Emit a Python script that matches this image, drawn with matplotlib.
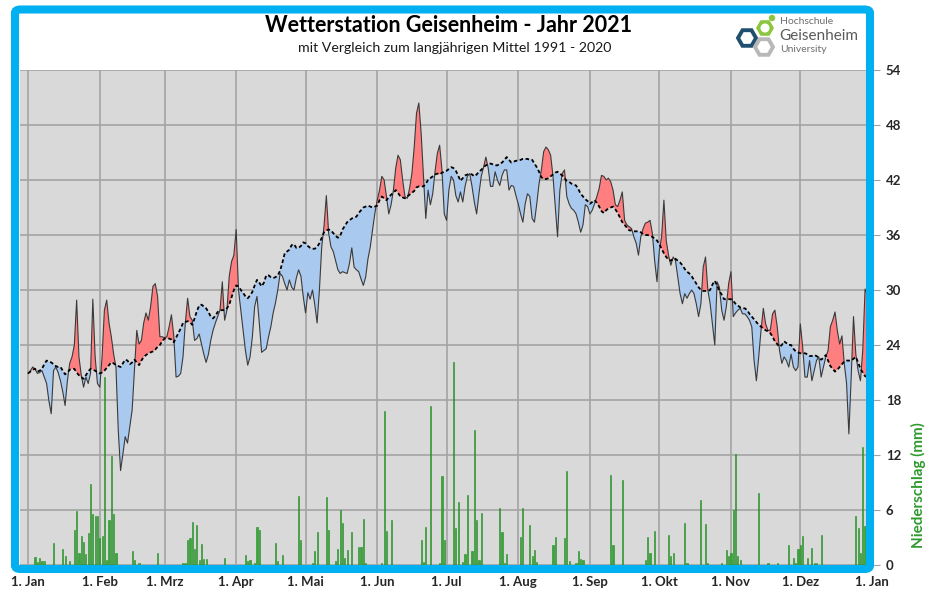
import numpy as np
import matplotlib
matplotlib.use("Agg")
import matplotlib.pyplot as plt
from matplotlib.patches import FancyBboxPatch, RegularPolygon, Circle

W, H = 931, 592

# Tageswerte 2021 (Tag des Jahres 0..364)
WERT_2021 = [
    20.9, 21.2, 21.6, 21.4, 20.9, 21.0, 21.2, 20.5, 19.8, 17.9,
    16.5, 21.2, 21.6, 21.0, 20.1, 18.9, 17.4, 20.1, 22.0, 22.7,
    24.0, 28.9, 22.7, 20.7, 19.4, 20.5, 19.8, 20.9, 29.0, 22.7,
    19.8, 19.4, 22.7, 27.8, 28.9, 26.4, 24.9, 23.0, 21.6, 14.7,
    10.3, 12.1, 14.0, 13.3, 15.1, 16.9, 21.2, 25.6, 24.1, 24.5,
    26.4, 27.5, 26.7, 28.2, 30.4, 30.7, 29.3, 24.9, 24.9, 24.8,
    24.9, 26.0, 27.3, 25.0, 20.5, 20.6, 20.9, 22.7, 26.4, 29.1,
    27.1, 26.7, 24.5, 24.7, 25.2, 24.1, 23.0, 22.1, 23.0, 24.5,
    25.6, 26.4, 27.1, 27.8, 30.9, 26.7, 27.8, 31.5, 33.1, 33.8,
    36.6, 30.0, 27.8, 25.6, 23.4, 21.8, 22.7, 24.9, 28.2, 29.3,
    26.4, 23.2, 23.4, 23.6, 24.9, 26.0, 27.5, 28.6, 30.0, 31.8,
    31.5, 30.7, 30.0, 31.1, 30.3, 30.0, 31.3, 32.2, 31.5, 29.3,
    27.5, 29.7, 29.0, 30.0, 28.4, 26.4, 30.0, 34.7, 37.0, 40.3,
    36.2, 34.7, 34.2, 33.2, 32.2, 31.8, 32.0, 31.9, 31.8, 32.9,
    34.6, 32.5, 32.2, 32.0, 31.2, 30.5, 31.4, 33.4, 34.7, 36.6,
    38.4, 39.8, 40.9, 42.4, 42.0, 40.2, 38.3, 39.3, 40.9, 43.3,
    44.7, 44.2, 42.0, 40.2, 40.0, 41.1, 42.7, 45.6, 49.3, 50.4,
    47.1, 42.4, 37.8, 40.9, 39.3, 40.5, 42.9, 44.9, 45.8, 43.1,
    38.3, 37.6, 40.9, 42.4, 42.0, 40.3, 39.6, 40.7, 39.6, 41.3,
    42.4, 42.7, 41.3, 39.6, 38.3, 40.5, 42.4, 43.4, 44.5, 43.3,
    41.3, 41.3, 42.9, 42.0, 41.4, 42.5, 43.1, 43.1, 40.9, 41.4,
    41.3, 40.3, 39.4, 38.3, 37.4, 39.4, 40.5, 40.2, 37.8, 37.4,
    39.4, 41.6, 43.1, 45.1, 45.6, 45.3, 44.7, 42.5, 39.1, 35.8,
    40.9, 42.7, 43.1, 40.2, 39.4, 38.9, 38.7, 38.3, 37.4, 36.3,
    37.1, 39.3, 39.1, 38.3, 38.7, 39.4, 40.2, 41.1, 42.5, 42.4,
    42.0, 42.2, 41.8, 40.9, 39.3, 39.1, 39.8, 40.7, 37.6, 37.1,
    36.9, 36.7, 35.8, 35.1, 33.8, 35.8, 36.7, 37.3, 37.4, 37.6,
    36.2, 33.2, 30.9, 34.3, 35.8, 39.8, 35.4, 33.8, 32.7, 33.6,
    33.2, 31.4, 29.6, 28.5, 29.6, 29.1, 29.6, 30.0, 29.6, 28.5,
    27.1, 28.5, 32.5, 33.6, 30.0, 28.5, 26.3, 24.0, 30.9, 30.3,
    27.8, 26.7, 28.2, 30.7, 32.0, 27.1, 27.5, 27.8, 28.0, 27.4,
    27.4, 27.1, 26.7, 26.0, 22.3, 20.1, 22.7, 25.6, 28.0, 26.3,
    25.6, 25.6, 27.4, 27.8, 26.0, 23.4, 22.0, 22.7, 22.3, 21.6,
    23.0, 21.6, 21.2, 21.6, 26.3, 23.8, 20.5, 20.5, 22.3, 20.1,
    21.2, 22.3, 22.7, 20.5, 21.6, 22.7, 23.4, 26.0, 26.7, 27.6,
    25.6, 24.1, 25.0, 22.0, 19.8, 14.3, 20.5, 27.1, 23.0, 21.2,
    20.1, 23.4, 30.1, 29.5, 29.0,
]

# langjähriges Mittel 1991-2020
MITTEL = [
    20.9, 21.1, 21.3, 21.4, 21.1, 21.2, 21.4, 21.9, 22.3, 22.2,
    22.1, 21.9, 21.7, 21.6, 21.6, 21.2, 20.8, 21.0, 21.3, 21.4,
    21.4, 21.0, 20.7, 20.5, 20.3, 20.7, 21.1, 21.4, 21.3, 21.2,
    21.0, 20.9, 21.0, 21.2, 21.5, 21.8, 22.1, 22.0, 21.8, 21.7,
    21.6, 22.0, 22.4, 22.3, 21.9, 22.1, 22.4, 22.1, 21.8, 22.3,
    22.7, 22.9, 23.1, 23.2, 23.3, 23.5, 23.8, 24.0, 24.4, 24.7,
    24.7, 24.7, 24.6, 24.3, 24.8, 25.3, 25.8, 26.4, 26.5, 26.6,
    26.5, 26.2, 26.9, 27.7, 28.3, 28.4, 28.2, 28.0, 27.6, 27.1,
    26.9, 27.2, 27.6, 27.8, 27.8, 27.8, 28.0, 28.4, 29.2, 30.0,
    30.5, 30.4, 30.0, 29.7, 29.3, 29.1, 29.4, 29.8, 30.5, 31.1,
    30.8, 30.4, 30.8, 31.6, 31.6, 31.4, 31.3, 31.4, 31.6, 32.1,
    33.0, 34.0, 34.2, 34.4, 34.9, 35.0, 34.6, 34.6, 34.8, 35.2,
    35.1, 34.8, 34.6, 34.5, 34.5, 34.7, 35.1, 35.7, 36.3, 36.5,
    36.6, 36.5, 36.2, 35.9, 35.7, 35.9, 36.6, 37.0, 37.4, 37.6,
    37.8, 37.9, 38.0, 38.4, 38.7, 39.0, 39.1, 39.2, 39.1, 39.0,
    39.1, 39.2, 39.8, 40.2, 40.0, 39.8, 40.1, 40.4, 40.6, 40.9,
    40.6, 40.2, 40.1, 40.0, 40.2, 40.4, 40.6, 40.8, 41.2, 41.3,
    41.3, 41.3, 41.6, 42.0, 42.2, 42.4, 42.6, 42.7, 42.6, 42.8,
    42.9, 43.0, 43.2, 43.4, 43.3, 43.0, 42.5, 41.9, 42.2, 42.5,
    42.6, 42.7, 42.6, 42.4, 42.6, 42.9, 43.1, 43.4, 43.6, 43.7,
    43.8, 43.7, 43.6, 43.6, 43.8, 43.9, 44.2, 44.5, 44.2, 43.9,
    44.0, 44.1, 44.1, 44.2, 44.3, 44.3, 44.3, 44.2, 44.2, 43.8,
    43.4, 42.9, 42.3, 42.1, 42.1, 42.2, 42.4, 42.6, 42.8, 42.9,
    42.7, 42.5, 42.2, 41.9, 41.8, 41.6, 41.5, 41.4, 41.0, 40.5,
    40.2, 39.9, 39.7, 39.4, 39.6, 39.8, 39.5, 39.1, 38.6, 38.4,
    38.7, 38.9, 39.0, 39.1, 38.8, 38.4, 37.9, 37.4, 37.1, 36.8,
    36.5, 36.5, 36.4, 36.4, 36.4, 36.3, 36.1, 36.0, 36.0, 35.9,
    35.8, 35.6, 35.4, 35.0, 34.5, 34.0, 33.6, 33.3, 33.2, 33.4,
    33.4, 33.2, 33.0, 32.7, 32.3, 32.0, 31.8, 31.5, 31.1, 30.7,
    30.3, 30.0, 29.9, 29.9, 29.9, 30.0, 30.6, 31.0, 30.5, 29.9,
    29.5, 29.0, 29.0, 29.0, 29.0, 28.8, 28.5, 28.3, 28.1, 28.0,
    28.0, 27.8, 27.4, 27.1, 26.8, 26.5, 26.2, 26.0, 25.8, 25.6,
    25.5, 25.3, 24.9, 24.4, 24.1, 23.8, 24.0, 24.4, 24.2, 24.0,
    24.0, 23.6, 23.3, 23.2, 23.1, 23.1, 23.1, 23.0, 22.8, 22.8,
    22.9, 22.8, 22.6, 22.4, 22.6, 22.9, 22.3, 21.7, 21.4, 21.1,
    21.3, 21.6, 21.9, 22.2, 22.3, 22.3, 22.3, 22.5, 22.7, 22.1,
    21.4, 21.0, 20.6, 20.5, 20.4,
]

# Niederschlag (mm): Tag des Jahres und Menge
REGEN_TAG = [
    3, 4, 5, 6, 7, 11, 15, 16, 18, 20, 21, 22, 23, 24, 25, 26, 27, 28, 29, 30,
    31, 32, 33, 34, 35, 36, 37, 38, 45, 46, 48, 56, 67, 68, 69, 70, 71, 72, 73, 74,
    75, 76, 77, 85, 94, 95, 96, 98, 99, 100, 107, 108, 110, 117, 118, 123, 124, 125, 129, 130,
    133, 134, 135, 136, 137, 138, 140, 143, 144, 145, 146, 153, 154, 155, 157, 170, 171, 172, 174, 178,
    179, 180, 184, 185, 186, 188, 189, 190, 192, 193, 194, 195, 196, 204, 205, 206, 207, 213, 214, 217,
    218, 219, 220, 227, 228, 232, 233, 234, 237, 238, 239, 240, 252, 253, 257, 267, 268, 269, 271, 277,
    278, 279, 284, 285, 291, 293, 294, 300, 302, 303, 304, 305, 306, 307, 308, 316, 320, 324, 329, 331,
    332, 333, 334, 335, 337, 339, 340, 341, 343, 358, 359, 360, 361, 362,
]
REGEN_MM = [
    0.9, 0.3, 0.8, 0.4, 0.4, 2.4, 1.8, 1.0, 0.4, 3.8, 5.9, 1.3, 3.2, 2.5, 1.2, 3.5, 8.8, 5.6, 5.3, 5.3,
    3.0, 3.2, 20.5, 0.5, 4.9, 11.9, 5.6, 1.3, 1.5, 0.5, 0.2, 1.3, 0.2, 0.2, 2.7, 3.0, 4.7, 1.7, 4.4, 0.6,
    2.3, 0.7, 0.7, 0.8, 1.1, 0.4, 0.6, 0.2, 4.1, 3.8, 2.4, 0.4, 1.1, 7.5, 2.7, 0.2, 1.5, 3.6, 7.4, 3.8,
    0.4, 1.8, 6.0, 4.6, 0.8, 1.6, 3.6, 2.0, 2.0, 5.0, 0.2, 0.2, 16.8, 3.7, 4.9, 2.7, 0.3, 4.1, 17.4, 0.2,
    9.7, 2.7, 22.2, 4.0, 6.9, 0.3, 1.2, 7.6, 1.5, 14.7, 4.9, 0.5, 5.7, 6.2, 3.6, 0.2, 1.2, 3.1, 6.2, 4.4,
    1.0, 1.6, 0.3, 2.2, 3.1, 2.9, 10.3, 0.4, 0.2, 1.5, 0.7, 0.6, 9.8, 2.2, 9.3, 0.5, 3.1, 1.3, 3.7, 3.3,
    1.0, 1.3, 4.6, 0.2, 7.1, 4.5, 0.2, 0.2, 1.6, 1.0, 1.3, 6.0, 12.1, 1.0, 0.5, 7.9, 0.2, 0.2, 2.2, 0.8,
    0.2, 1.8, 2.2, 3.2, 0.8, 1.9, 0.2, 0.2, 3.3, 5.3, 4.0, 1.3, 12.9, 4.3,
]

MONATE_TAG = [0, 31, 59, 90, 120, 151, 181, 212, 243, 273, 304, 334, 365]
MONATE = ["1. Jan", "1. Feb", "1. Mrz", "1. Apr", "1. Mai", "1. Jun", "1. Jul",
          "1. Aug", "1. Sep", "1. Okt", "1. Nov", "1. Dez", "1. Jan"]

ROT = "#ff7f80"
BLAU = "#a9c9ef"
GRUEN = "#2f9a2f"
CYAN = "#00b0f0"
RASTER = "#a3a3a3"

plt.rcParams["font.family"] = ["Lato", "DejaVu Sans"]


def fx(px):
    return px / W


def fy(py):
    return 1 - py / H


fig = plt.figure(figsize=(W / 100, H / 100), dpi=100)
fig.patch.set_facecolor("white")

ax = fig.add_axes([fx(20), fy(565), (872 - 20) / W, (565 - 70) / H])
ax.set_facecolor("#d9d9d9")

tage = np.arange(len(WERT_2021))
wert = np.array(WERT_2021)
mittel = np.array(MITTEL)

ax.bar(REGEN_TAG, REGEN_MM, width=0.5, color="#3aa63a", edgecolor="#1f8a1f",
       linewidth=0.4, zorder=2)
ax.fill_between(tage, wert, mittel, where=wert >= mittel, interpolate=True,
                color=ROT, lw=0, zorder=3)
ax.fill_between(tage, wert, mittel, where=wert < mittel, interpolate=True,
                color=BLAU, lw=0, zorder=3)
ax.plot(tage, wert, color="#3a3a3a", lw=0.8, zorder=4)
ax.plot(tage, mittel, color="black", lw=1.3, ls=(0, (2, 1.4)), zorder=5)

ax.set_xlim(-3.5, 365)
ax.set_ylim(0, 54)
ax.set_xticks(MONATE_TAG)
ax.set_xticklabels(MONATE, fontsize=9.5, fontweight="bold", color="#262626")
ax.set_yticks(range(0, 55, 6))
ax.yaxis.tick_right()
ax.tick_params(axis="x", length=0, pad=8)
ax.tick_params(axis="y", length=6, color=RASTER, pad=4, labelsize=9.5,
               labelcolor="#262626")
for lab in ax.get_yticklabels():
    lab.set_fontweight("bold")
ax.grid(True, color=RASTER, lw=1.2, zorder=0)
ax.set_axisbelow(True)
for s in ax.spines.values():
    s.set_visible(False)

fig.text(fx(918), fy(485), "Niederschlag (mm)", rotation=90, color=GRUEN,
         fontsize=11, fontweight="bold", ha="center", va="center")

# Titel
fig.text(fx(449), fy(26), "Wetterstation Geisenheim - Jahr 2021", fontsize=15.5,
         fontweight="bold", ha="center", va="center", color="black")
fig.text(fx(455), fy(48), "mit Vergleich zum langjährigen Mittel 1991 - 2020",
         fontsize=10.2, ha="center", va="center", color="#1a1a1a")

# Logo
lax = fig.add_axes([fx(730), fy(60), 50 / W, 50 / H])
lax.set_xlim(730, 780)
lax.set_ylim(60, 10)
lax.set_aspect("equal")
lax.axis("off")
lax.add_patch(RegularPolygon((747, 38), 6, radius=9, orientation=np.pi / 6,
                             fill=False, ec="#1f4e6e", lw=2.8))
lax.add_patch(RegularPolygon((764, 47), 6, radius=9, orientation=np.pi / 6,
                             fill=False, ec="#b8b8b8", lw=2.8))
lax.add_patch(RegularPolygon((765, 28), 6, radius=9, orientation=np.pi / 6,
                             color="#8cc63f", lw=0))
lax.add_patch(Circle((765, 28), 4.5, color="white", lw=0))
lax.add_patch(Circle((772, 18), 3.2, color="#8cc63f", lw=0))
fig.text(fx(780), fy(22), "Hochschule", fontsize=7.5, color="#6e6e6e",
         ha="left", va="center")
fig.text(fx(779), fy(36), "Geisenheim", fontsize=11, color="#5a5a5a",
         ha="left", va="center")
fig.text(fx(780), fy(50), "University", fontsize=7.5, color="#6e6e6e",
         ha="left", va="center")

# cyanfarbener Rahmen
rahmen = FancyBboxPatch((fx(15), fy(569)), (870 - 15) / W, (569 - 9.5) / H,
                        boxstyle="round,pad=0,rounding_size=0.006",
                        transform=fig.transFigure, fill=False, ec=CYAN,
                        lw=5.8, zorder=10)
fig.patches.append(rahmen)

fig.savefig("out.png", dpi=100)
